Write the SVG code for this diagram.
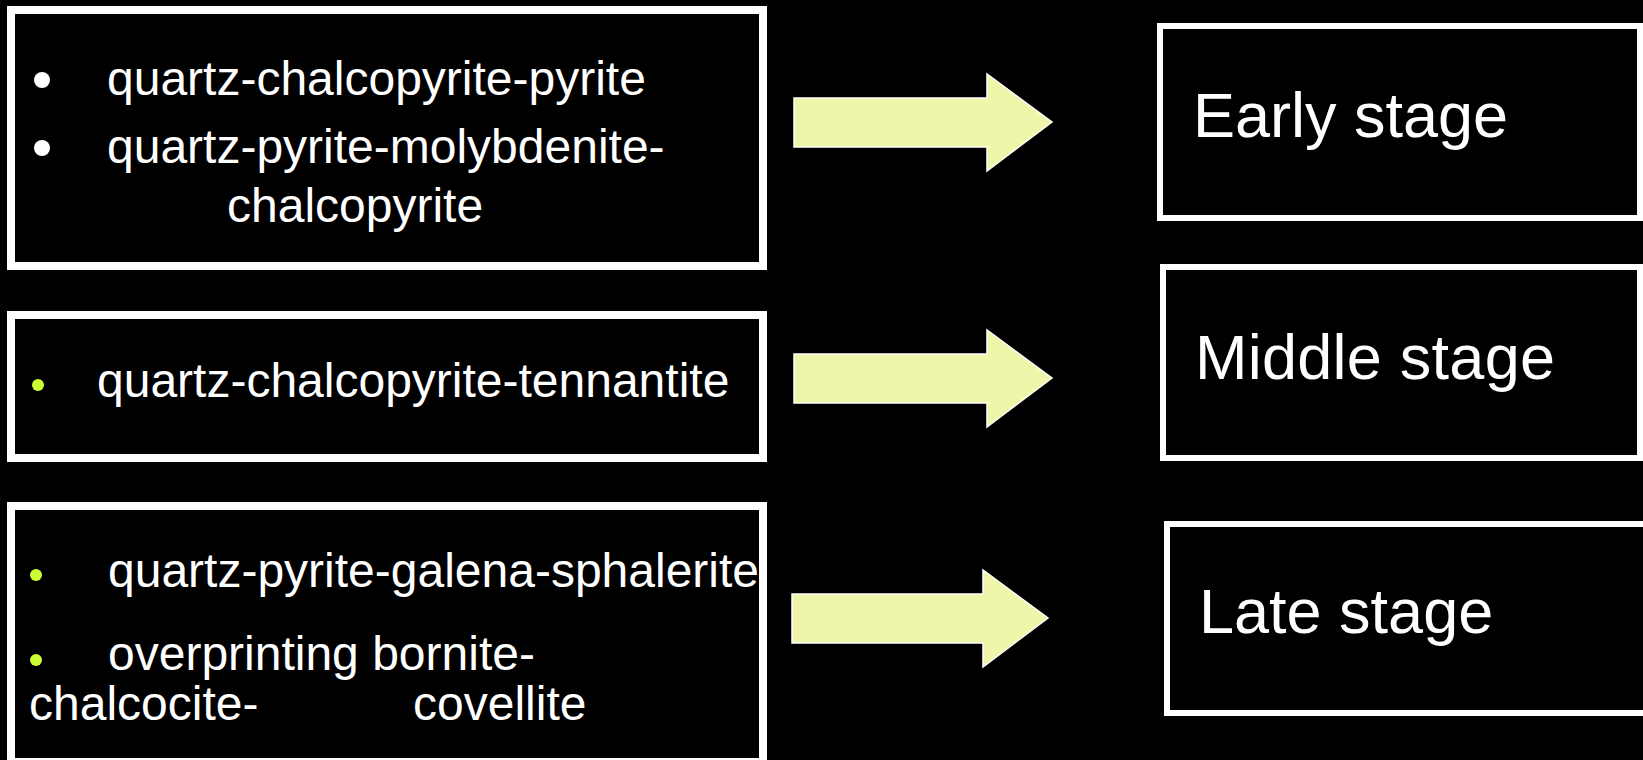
<svg xmlns="http://www.w3.org/2000/svg" width="1643" height="760" viewBox="0 0 1643 760">
<style>
.lbox{fill:#000;stroke:#fff;stroke-width:8}
.rbox{fill:#000;stroke:#fff;stroke-width:6}
.lt{font-family:"Liberation Sans",Arial,sans-serif;font-size:48px;fill:#fff}
.rt{font-family:"Liberation Sans",Arial,sans-serif;font-size:63px;fill:#fff}
.arrow{fill:#eff5a9;stroke:#fff;stroke-width:1.5;stroke-linejoin:miter}
.wb{fill:#fff}
.gb{fill:#ccff33}
</style>
<rect x="0" y="0" width="1643" height="760" fill="#000"/>
<g id="box-early-assemblages">
<rect class="lbox" x="11" y="10" width="752" height="256"/>
<circle class="wb" cx="42" cy="80" r="8"/>
<text class="lt" x="107" y="95">quartz-chalcopyrite-pyrite</text>
<circle class="wb" cx="42" cy="148" r="8"/>
<text class="lt" x="107" y="163">quartz-pyrite-molybdenite-</text>
<text class="lt" x="227" y="222">chalcopyrite</text>
</g>
<g id="box-middle-assemblages">
<rect class="lbox" x="11" y="315" width="752" height="143"/>
<circle class="gb" cx="38" cy="385" r="6"/>
<text class="lt" x="97" y="397">quartz-chalcopyrite-tennantite</text>
</g>
<g id="box-late-assemblages">
<rect class="lbox" x="11" y="506" width="752" height="256"/>
<circle class="gb" cx="36" cy="575" r="6"/>
<text class="lt" x="108" y="587">quartz-pyrite-galena-sphalerite</text>
<circle class="gb" cx="36" cy="660" r="6"/>
<text class="lt" x="108" y="670">overprinting bornite-</text>
<text class="lt" x="29" y="720">chalcocite-</text>
<text class="lt" x="413" y="720">covellite</text>
</g>
<g id="connectors">
<polygon class="arrow" points="794,98 987,98 987,74 1052,122 987,171 987,147 794,147"/>
<polygon class="arrow" points="794,354 987,354 987,330 1052,378 987,427 987,403 794,403"/>
<polygon class="arrow" points="792,594 983,594 983,570 1048,618 983,667 983,643 792,643"/>
</g>
<g id="stage-early">
<rect class="rbox" x="1160" y="26" width="480" height="192"/>
<text class="rt" x="1193" y="137">Early stage</text>
</g>
<g id="stage-middle">
<rect class="rbox" x="1163" y="267" width="477" height="191"/>
<text class="rt" x="1195" y="379" textLength="360" lengthAdjust="spacing">Middle stage</text>
</g>
<g id="stage-late">
<rect class="rbox" x="1167" y="524" width="490" height="189"/>
<text class="rt" x="1199" y="633">Late stage</text>
</g>
</svg>
